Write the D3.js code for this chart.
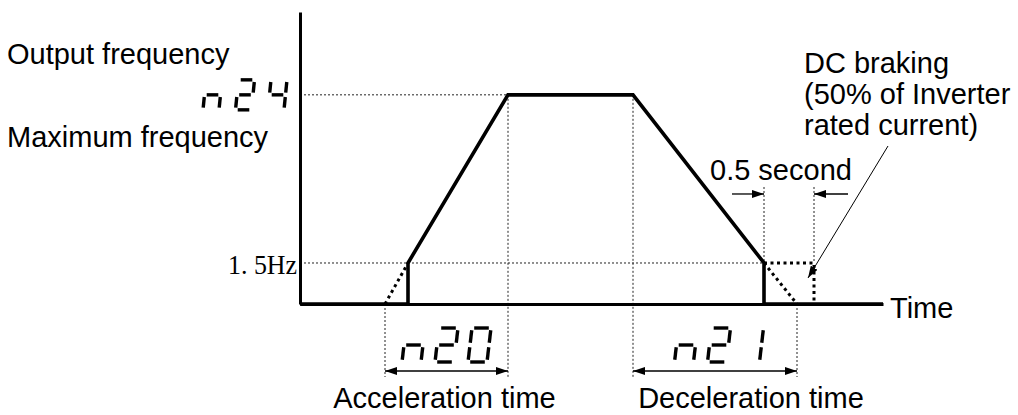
<!DOCTYPE html>
<html>
<head>
<meta charset="utf-8">
<script src="https://cdn.jsdelivr.net/npm/d3@7"></script>
<style>
  body { margin: 0; background: #fff; }
  .lbl { font-family: "Liberation Sans", Arial, sans-serif; font-size: 29px; fill: #000; }
</style>
</head>
<body>
<div id="chart"></div>
<script>

// output frequency profile (time in s, frequency in Hz)
var profileTime = [0, 1.08, 1.08, 2.08, 3.33, 4.64, 4.64, 5.83];
var profileFreq = [0, 0, 1.5, 7.65, 7.65, 1.5, 0, 0];

// dotted extrapolations and DC braking box
var accelDotTime = [0.85, 1.08], accelDotFreq = [0, 1.5];
var decelDotTime = [4.64, 4.97], decelDotFreq = [1.5, 0];
var dcTime = [4.64, 5.14, 5.14], dcFreq = [1.5, 1.5, 0];

var fLow = 1.5, fMax = 7.65, fTop = 10.68, tEnd = 5.83;
var accelSpan = [0.85, 2.08], decelSpan = [3.33, 4.97], dcSpan = [4.64, 5.14];

// texts
var sideLabels = ["Output frequency", "Maximum frequency"];
var lowLabel = "1. 5Hz";
var timeLabel = "Time";
var secLabel = "0.5 second";
var dcLines = ["DC braking", "(50% of Inverter", "rated current)"];
var spanLabels = ["Acceleration time", "Deceleration time"];
var codeMax = "n24", codeAccel = "n20", codeDecel = "n21";

var width = 1018, height = 415;

var svg = d3.select("#chart").append("svg")
    .attr("width", width)
    .attr("height", height);

// arrow head marker
svg.append("defs").append("marker")
    .attr("id", "arr")
    .attr("markerUnits", "userSpaceOnUse")
    .attr("viewBox", "0 0 12 8")
    .attr("refX", 12).attr("refY", 4)
    .attr("markerWidth", 12).attr("markerHeight", 8)
    .attr("orient", "auto-start-reverse")
  .append("path")
    .attr("d", "M0,0L12,4L0,8Z")
    .attr("fill", "#000");

// scales
var x = d3.scaleLinear().domain([0, tEnd]).range([300, 883]);
var y = d3.scaleLinear().domain([0, fTop]).range([304, 12]);

var line = d3.line()
    .x(function(d) { return x(d[0]); })
    .y(function(d) { return y(d[1]); });

function pairs(t, f) { return t.map(function(v, i) { return [v, f[i]]; }); }

// thin dotted guides
var guides = svg.append("g")
    .attr("stroke", "#222").attr("stroke-width", 1)
    .attr("stroke-dasharray", "2,2").attr("fill", "none");
var below = y(0) + 73;
guides.append("line").attr("x1", x(0)).attr("x2", x(2.08)).attr("y1", y(fMax)).attr("y2", y(fMax));
guides.append("line").attr("x1", x(0)).attr("x2", x(dcSpan[0])).attr("y1", y(fLow)).attr("y2", y(fLow));
[[accelSpan[1], fMax], [decelSpan[0], fMax], [accelSpan[0], 0], [decelSpan[1], 0]].forEach(function(d) {
  guides.append("line").attr("x1", x(d[0])).attr("x2", x(d[0])).attr("y1", y(d[1])).attr("y2", below);
});
var secY = y(fLow) - 69;
dcSpan.forEach(function(t) {
  guides.append("line").attr("x1", x(t)).attr("x2", x(t)).attr("y1", secY - 7).attr("y2", y(fLow));
});

// axes
var xAxis = svg.append("g")
    .attr("transform", "translate(0," + y(0) + ")")
    .call(d3.axisBottom(x).tickValues([]).tickSizeOuter(0));
xAxis.select(".domain").attr("stroke-width", 3);

var yAxis = svg.append("g")
    .attr("transform", "translate(" + x(0) + ",0)")
    .call(d3.axisLeft(y).tickValues([fLow]).tickSize(0).tickPadding(3)
      .tickFormat(function() { return lowLabel; }));
yAxis.select(".domain").attr("stroke-width", 3);
yAxis.selectAll("text")
    .attr("font-family", "'Liberation Serif', 'DejaVu Serif', serif")
    .attr("font-size", 27)
    .attr("textLength", 69)
    .attr("lengthAdjust", "spacingAndGlyphs")
    .attr("dy", "0.4em")
    .attr("fill", "#000");

// thick dotted lines
[[accelDotTime, accelDotFreq], [decelDotTime, decelDotFreq], [dcTime, dcFreq]].forEach(function(p) {
  svg.append("path")
      .datum(pairs(p[0], p[1]))
      .attr("d", line)
      .attr("fill", "none")
      .attr("stroke", "#000")
      .attr("stroke-width", 3)
      .attr("stroke-dasharray", "3,3.5");
});

// output frequency profile
svg.append("path")
    .datum(pairs(profileTime, profileFreq))
    .attr("d", line)
    .attr("fill", "none")
    .attr("stroke", "#000")
    .attr("stroke-width", 3.6)
    .attr("stroke-linejoin", "miter");

// dimension arrows
var dimY = y(0) + 67;
[accelSpan, decelSpan].forEach(function(s) {
  svg.append("line")
      .attr("x1", x(s[0])).attr("x2", x(s[1]))
      .attr("y1", dimY).attr("y2", dimY)
      .attr("stroke", "#000").attr("stroke-width", 1.3)
      .attr("marker-start", "url(#arr)").attr("marker-end", "url(#arr)");
});
svg.append("line")
    .attr("x1", x(dcSpan[0]) - 32).attr("x2", x(dcSpan[0]))
    .attr("y1", secY).attr("y2", secY)
    .attr("stroke", "#000").attr("stroke-width", 1.3)
    .attr("marker-end", "url(#arr)");
svg.append("line")
    .attr("x1", x(dcSpan[1]) + 34).attr("x2", x(dcSpan[1]))
    .attr("y1", secY).attr("y2", secY)
    .attr("stroke", "#000").attr("stroke-width", 1.3)
    .attr("marker-end", "url(#arr)");

// leader to DC braking box
svg.append("line")
    .attr("x1", 888).attr("y1", 146)
    .attr("x2", x(dcSpan[1]) - 6).attr("y2", y(fLow) + 15)
    .attr("stroke", "#000").attr("stroke-width", 1)
    .attr("marker-end", "url(#arr)");

// seven segment codes
var segMap = { n: "ceg", "2": "abged", "4": "fgbc", "0": "abcdef", "1": "bc" };
var segEnds = {
  a: [[0, 0], [1, 0]], b: [[1, 0], [1, .5]], c: [[1, .5], [1, 1]],
  d: [[0, 1], [1, 1]], e: [[0, .5], [0, 1]], f: [[0, 0], [0, .5]], g: [[0, .5], [1, .5]]
};
function sevenSeg(str, cx, cy, h, w, pitch, slant, anchorEnd) {
  var total = (str.length - 1) * pitch + w + slant;
  var x0 = anchorEnd ? cx - total : cx - total / 2;
  var top = cy - h / 2, gap = 2.2;
  var g = svg.append("g").attr("aria-label", str);
  g.append("title").text(str);
  str.split("").forEach(function(ch, i) {
    segMap[ch].split("").forEach(function(s) {
      var p = segEnds[s].map(function(q) { return [q[0] * w, q[1] * h]; });
      var dx = p[1][0] - p[0][0], dy = p[1][1] - p[0][1], len = Math.hypot(dx, dy);
      var ux = dx / len, uy = dy / len;
      var ends = [[p[0][0] + ux * gap, p[0][1] + uy * gap], [p[1][0] - ux * gap, p[1][1] - uy * gap]]
        .map(function(q) { return [x0 + i * pitch + q[0] + slant * (1 - q[1] / h), top + q[1]]; });
      g.append("path")
          .attr("d", d3.line()(ends))
          .attr("stroke", "#000")
          .attr("stroke-width", 3.4)
          .attr("fill", "none");
    });
  });
}
sevenSeg(codeMax, x(0) - 13, y(fMax), 30, 16, 32.5, 3, true);
sevenSeg(codeAccel, (x(accelSpan[0]) + x(accelSpan[1])) / 2, 345, 34, 19, 33, 4);
sevenSeg(codeDecel, (x(decelSpan[0]) + x(decelSpan[1])) / 2 + 4, 345, 34, 19, 33, 4);

// labels
svg.append("text").attr("class", "lbl").attr("x", 7).attr("y", 64).text(sideLabels[0]);
svg.append("text").attr("class", "lbl").attr("x", 7).attr("y", 147).text(sideLabels[1]);
svg.append("text").attr("class", "lbl").attr("x", x(tEnd) + 7).attr("y", y(0) + 14).text(timeLabel);
svg.append("text").attr("class", "lbl").attr("x", 710).attr("y", 180).text(secLabel);
dcLines.forEach(function(t, i) {
  svg.append("text").attr("class", "lbl").attr("x", 804).attr("y", 73 + i * 31).text(t);
});
svg.append("text").attr("class", "lbl").attr("text-anchor", "middle")
    .attr("x", (x(accelSpan[0]) + x(accelSpan[1])) / 2 - 2).attr("y", 408).text(spanLabels[0]);
svg.append("text").attr("class", "lbl").attr("text-anchor", "middle")
    .attr("x", (x(decelSpan[0]) + x(decelSpan[1])) / 2 + 36).attr("y", 408).text(spanLabels[1]);

</script>
</body>
</html>
